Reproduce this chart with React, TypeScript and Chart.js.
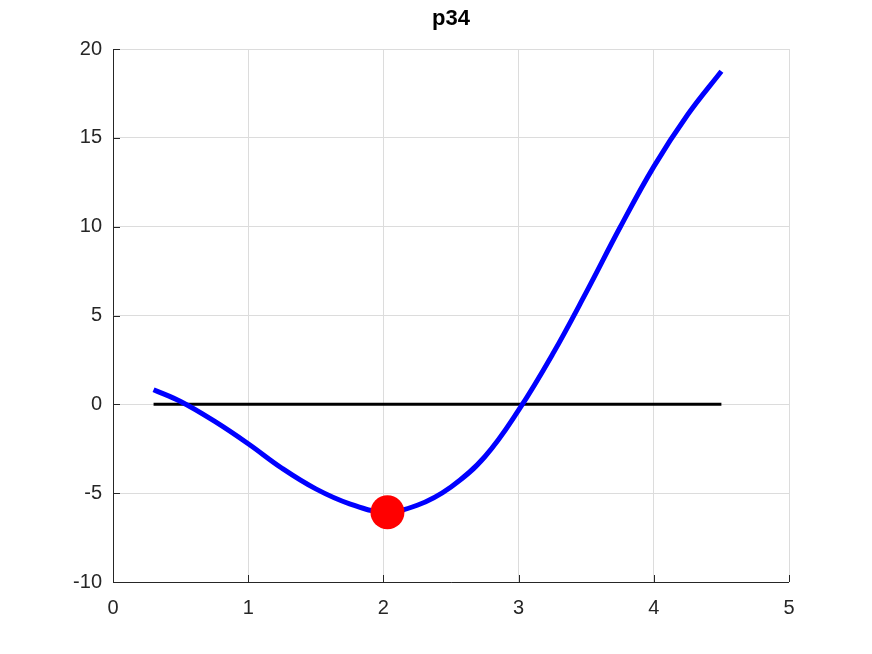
import React, { useEffect, useRef } from "react";
import { Chart, registerables } from "chart.js";

Chart.register(...registerables);

const titleText = "p34";
const curveX = [0.3, 0.5, 0.75, 1.0, 1.25, 1.5, 1.75, 2.0, 2.25, 2.5, 2.75, 3.0, 3.25, 3.5, 3.75, 4.0, 4.25, 4.5];
const curveY = [0.82, 0.16, -0.95, -2.22, -3.6, -4.76, -5.6, -6.05, -5.68, -4.65, -2.95, -0.33, 2.8, 6.3, 9.95, 13.38, 16.3, 18.75];
const zeroLineX = [0.3, 4.5];
const zeroLineY = [0, 0];
const markerX = [2.03];
const markerY = [-6.07];
const xTicks = [0, 1, 2, 3, 4, 5];
const yTicks = [-10, -5, 0, 5, 10, 15, 20];

const FONT = "'Liberation Sans', Arial, Helvetica, sans-serif";
const AXIS_COLOR = "#262626";

const axesPlugin = {
  id: "octaveAxes",
  beforeDatasetsDraw(chart: any) {
    const { ctx, chartArea, scales } = chart;
    const { left, right, top, bottom } = chartArea;
    ctx.save();
    ctx.strokeStyle = AXIS_COLOR;
    ctx.lineWidth = 1;
    ctx.beginPath();
    ctx.moveTo(left + 0.5, top);
    ctx.lineTo(left + 0.5, bottom + 0.5);
    ctx.lineTo(right, bottom + 0.5);
    ctx.stroke();
    ctx.beginPath();
    for (const t of xTicks) {
      const x = Math.round(scales.x.getPixelForValue(t)) + 0.5;
      ctx.moveTo(x, bottom);
      ctx.lineTo(x, bottom - 7);
    }
    for (const t of yTicks) {
      const y = Math.round(scales.y.getPixelForValue(t)) + 0.5;
      ctx.moveTo(left, y);
      ctx.lineTo(left + 7, y);
    }
    ctx.stroke();
    ctx.restore();
  },
  afterDraw(chart: any) {
    const { ctx, chartArea } = chart;
    ctx.save();
    ctx.fillStyle = "#000000";
    ctx.font = `bold 22px ${FONT}`;
    ctx.textAlign = "center";
    ctx.textBaseline = "alphabetic";
    ctx.fillText(titleText, (chartArea.left + chartArea.right) / 2, 25);
    ctx.restore();
  },
};

export default function App() {
  const ref = useRef<HTMLCanvasElement | null>(null);
  useEffect(() => {
    if (!ref.current) return;
    const chart = new Chart(ref.current, {
      type: "scatter",
      data: {
        datasets: [
          {
            label: "marker",
            data: markerX.map((x, i) => ({ x, y: markerY[i] })),
            pointRadius: 17,
            pointBackgroundColor: "#ff0000",
            pointBorderColor: "#ff0000",
            pointBorderWidth: 0,
            showLine: false,
            order: 0,
            clip: false,
          },
          {
            label: "curve",
            data: curveX.map((x, i) => ({ x, y: curveY[i] })),
            showLine: true,
            borderColor: "#0000ff",
            borderWidth: 5,
            pointRadius: 0,
            tension: 0.4,
            borderCapStyle: "butt",
            order: 1,
            clip: false,
          },
          {
            label: "zero",
            data: zeroLineX.map((x, i) => ({ x, y: zeroLineY[i] })),
            showLine: true,
            borderColor: "#000000",
            borderWidth: 3,
            pointRadius: 0,
            order: 2,
          },
        ],
      } as any,
      options: {
        animation: false,
        responsive: false,
        layout: { padding: { left: 0, right: 83, top: 49, bottom: 0 } },
        plugins: { legend: { display: false }, tooltip: { enabled: false }, title: { display: false } },
        scales: {
          x: {
            type: "linear",
            min: 0,
            max: 5,
            afterBuildTicks: (s: any) => { s.ticks = xTicks.map((v) => ({ value: v })); },
            afterFit: (s: any) => { s.height = 72; },
            grid: { color: "#dcdcdc", drawTicks: false, lineWidth: 1 },
            border: { display: false },
            ticks: { color: AXIS_COLOR, font: { family: FONT, size: 20 }, padding: 14, maxRotation: 0 },
          },
          y: {
            type: "linear",
            min: -10,
            max: 20,
            afterBuildTicks: (s: any) => { s.ticks = yTicks.map((v) => ({ value: v })); },
            afterFit: (s: any) => { s.width = 113; },
            grid: { color: "#dcdcdc", drawTicks: false, lineWidth: 1 },
            border: { display: false },
            ticks: { color: AXIS_COLOR, font: { family: FONT, size: 20 }, padding: 11 },
          },
        },
      } as any,
      plugins: [axesPlugin],
    });
    return () => chart.destroy();
  }, []);
  return (
    <div style={{ position: "fixed", left: 0, top: 0, width: 872, height: 654, background: "#ffffff" }}>
      <canvas ref={ref} width={872} height={654} />
    </div>
  );
}
